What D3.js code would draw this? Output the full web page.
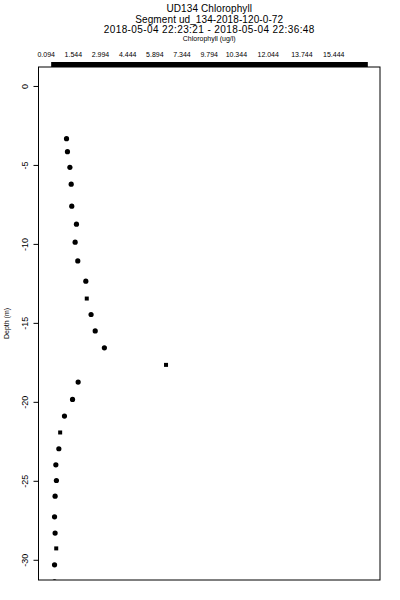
<!DOCTYPE html>
<html>
<head>
<meta charset="utf-8">
<script src="https://cdn.jsdelivr.net/npm/d3@7"></script>
<style>
  html, body { margin: 0; padding: 0; background: #fff; }
  svg { display: block; font-family: "Liberation Sans", Arial, sans-serif; }
</style>
</head>
<body>
<svg id="chart" width="400" height="600"></svg>
<script>
// --- data ---
const titleLines = [
  "UD134 Chlorophyll",
  "Segment ud_134-2018-120-0-72",
  "2018-05-04 22:23:21 - 2018-05-04 22:36:48"
];
const xLabel = "Chlorophyll (ug/l)";
const yLabel = "Depth (m)";

// top tick labels (as printed) and the values they sit at
const xTickLabels = ["0.094", "1.544", "2.994", "4.444", "5.894", "7.344",
  "9.794", "10.344", "12.044", "13.744", "15.444"];
const xTickValues = [0.094, 1.544, 2.994, 4.444, 5.894, 7.344,
  8.794, 10.244, 11.944, 13.744, 15.444];
const yTicks = [0, -5, -10, -15, -20, -25, -30];

// chlorophyll (ug/l) and depth (m) per sample; marker shape per sample
const chl = [1.18, 1.23, 1.36, 1.43, 1.46, 1.71, 1.64, 1.78, 2.21, 2.26,
  2.49, 2.71, 3.20, 6.49, 1.80, 1.50, 1.07, 0.84, 0.77, 0.61,
  0.64, 0.57, 0.54, 0.57, 0.63, 0.54, 0.54];
const depth = [-3.34, -4.16, -5.15, -6.22, -7.61, -8.75, -9.89, -11.08, -12.36, -13.46,
  -14.47, -15.51, -16.58, -17.66, -18.75, -19.85, -20.90, -21.94, -22.97, -23.99,
  -24.98, -25.97, -27.28, -28.31, -29.28, -30.32, -31.40];
const shape = ["c", "c", "c", "c", "c", "c", "c", "c", "c", "s",
  "c", "c", "c", "s", "c", "c", "c", "s", "c", "c",
  "c", "c", "c", "c", "s", "c", "c"];

const xDomain = [-0.316, 17.91];
const yDomain = [1.2, -31.28];
const barExtent = [0.36, 17.26];   // heavy top axis bar

// --- layout ---
const m = { top: 67, right: 20, bottom: 20, left: 38.5 };
const W = 400, H = 600;
const svg = d3.select("#chart");

const x = d3.scaleLinear().domain(xDomain).range([m.left, W - m.right]);
const y = d3.scaleLinear().domain(yDomain).range([m.top, H - m.bottom]);
const cx = (m.left + W - m.right) / 2;

// titles
svg.selectAll("text.title").data(titleLines).join("text")
  .attr("class", "title")
  .attr("x", cx).attr("y", (d, i) => 12 + i * 10.5)
  .attr("text-anchor", "middle").attr("font-size", 10)
  .attr("letter-spacing", (d, i) => (i === 2 ? 0.4 : 0.1))
  .text((d) => d);

svg.append("text").attr("x", cx).attr("y", 41)
  .attr("text-anchor", "middle").attr("font-size", 7).text(xLabel);

// top axis labels + heavy bar
svg.selectAll("text.xt").data(xTickValues).join("text")
  .attr("class", "xt")
  .attr("x", (d) => x(d)).attr("y", 57)
  .attr("text-anchor", "middle").attr("font-size", 7)
  .text((d, i) => xTickLabels[i]);

svg.append("rect")
  .attr("x", x(barExtent[0])).attr("y", m.top - 5)
  .attr("width", x(barExtent[1]) - x(barExtent[0])).attr("height", 5)
  .attr("fill", "#000");

// left axis
const yAxis = d3.axisLeft(y).tickValues(yTicks).tickSize(5).tickFormat(d3.format("d"));
const gy = svg.append("g").attr("transform", `translate(${m.left},0)`).call(yAxis);
gy.select(".domain").remove();
gy.selectAll(".tick line").attr("stroke", "#000");
gy.selectAll(".tick text")
  .attr("font-size", 9).attr("font-family", "Liberation Sans, Arial, sans-serif")
  .attr("text-anchor", "middle").attr("dy", null)
  .attr("x", null).attr("transform", "translate(-11,0) rotate(-90)")
  .text((d) => (d < 0 ? "-" + Math.abs(d) : d));

svg.append("text")
  .attr("transform", `translate(9,${(m.top + H - m.bottom) / 2}) rotate(-90)`)
  .attr("text-anchor", "middle").attr("font-size", 7).text(yLabel);

// frame
svg.append("rect")
  .attr("x", m.left).attr("y", m.top)
  .attr("width", W - m.right - m.left).attr("height", H - m.bottom - m.top)
  .attr("fill", "none").attr("stroke", "#000").attr("stroke-width", 1);

// points
svg.append("clipPath").attr("id", "plot").append("rect")
  .attr("x", m.left).attr("y", m.top)
  .attr("width", W - m.right - m.left).attr("height", H - m.bottom - m.top);

const pts = d3.range(chl.length).map((i) => ({ v: chl[i], d: depth[i], s: shape[i] }));
const g = svg.append("g").attr("clip-path", "url(#plot)");
g.selectAll("circle").data(pts.filter((p) => p.s === "c")).join("circle")
  .attr("cx", (p) => x(p.v)).attr("cy", (p) => y(p.d)).attr("r", 2.6)
  .attr("fill", "#000");
g.selectAll("rect").data(pts.filter((p) => p.s === "s")).join("rect")
  .attr("x", (p) => x(p.v) - 2).attr("y", (p) => y(p.d) - 2)
  .attr("width", 4).attr("height", 4).attr("fill", "#000");
</script>
</body>
</html>
